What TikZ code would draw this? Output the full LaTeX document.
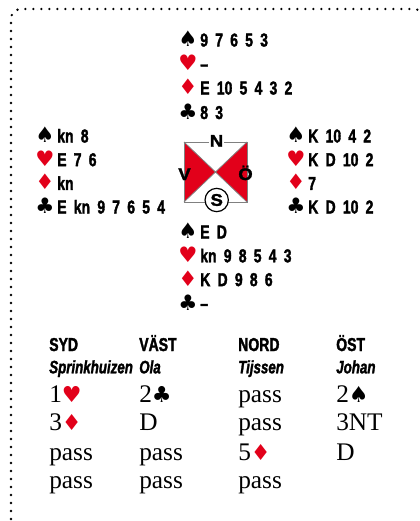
\documentclass[tikz,border=0pt]{standalone}
\usepackage{fontspec}
\setmainfont{Liberation Serif}
\newfontfamily\handfont[FakeStretch=0.75,FakeBold=1.8]{Liberation Sans Bold}
\newfontfamily\namefont[FakeStretch=0.74,FakeBold=1.6]{Liberation Sans Bold Italic}
\newfontfamily\symfont{DejaVu Sans}
\newfontfamily\dirfont[FakeStretch=1.1,FakeBold=1.8]{Liberation Sans Bold}
\newcommand\handsetup{\fontsize{14}{16}\handfont\spaceskip5.4pt\relax}
\definecolor{suitred}{RGB}{226,0,26}
\newcommand\hS{\makebox[16.5pt][l]{\fontsize{16}{16}\symfont ♠}}
\newcommand\hH{\makebox[16.5pt][l]{\fontsize{16}{16}\symfont\color{suitred}♥}}
\newcommand\hD{\makebox[16.5pt][l]{\fontsize{16}{16}\symfont\color{suitred}♦}}
\newcommand\hC{\makebox[16.5pt][l]{\fontsize{16}{16}\symfont ♣}}
\newcommand\bS{{\fontsize{16.5}{18}\symfont ♠}}
\newcommand\bH{{\fontsize{16.5}{18}\symfont\color{suitred}♥}}
\newcommand\bD{{\fontsize{16.5}{18}\symfont\color{suitred}♦}}
\newcommand\bC{{\fontsize{16.5}{18}\symfont ♣}}
\tikzset{
  hand/.style={anchor=base west,inner sep=0pt,font=\handsetup},
  head/.style={anchor=base west,inner sep=0pt,font=\fontsize{14}{16}\handfont},
  pname/.style={anchor=base west,inner sep=0pt,font=\fontsize{13.5}{15}\namefont},
  bid/.style={anchor=base west,inner sep=0pt,font=\fontsize{19}{22}\selectfont},
  dir/.style={inner sep=0.8pt,font=\fontsize{12.6}{14}\dirfont},
  border/.style={line width=2pt,line cap=round,dash pattern=on 0pt off 6pt},
}
\begin{document}
\begin{tikzpicture}[x=0.75pt,y=-0.75pt]
\useasboundingbox (0,0) rectangle (419,521);
\begin{scope}
\clip (0,0) rectangle (419,521);
\draw[border,rounded corners=7.5pt] (11,527) -- (11,9) -- (424,9) -- (424,527);
\end{scope}
% North
\node[hand] (n1) at (178,46.5) {\hS 9 7 6 5 3};
\node[hand] (n2) at (178,70.5) {\hH –};
\node[hand] (n3) at (178,94.5) {\hD E 10 5 4 3 2};
\node[hand] (n4) at (178,119) {\hC 8 3};
% West
\node[hand] (w1) at (35,142.5) {\hS kn 8};
\node[hand] (w2) at (35,166.2) {\hH E 7 6};
\node[hand] (w3) at (35,189.9) {\hD kn};
\node[hand] (w4) at (35,213.5) {\hC E kn 9 7 6 5 4};
% East
\node[hand] (e1) at (286,142.5) {\hS K 10 4 2};
\node[hand] (e2) at (286,166.2) {\hH K D 10 2};
\node[hand] (e3) at (286,189.9) {\hD 7};
\node[hand] (e4) at (286,213.5) {\hC K D 10 2};
% South
\node[hand] (s1) at (178,238.5) {\hS E D};
\node[hand] (s2) at (178,262.3) {\hH kn 9 8 5 4 3};
\node[hand] (s3) at (178,286.1) {\hD K D 9 8 6};
\node[hand] (s4) at (178,310) {\hC –};
% Compass
\coordinate (tl) at (184,142);
\coordinate (tr) at (247,142);
\coordinate (bl) at (184,202);
\coordinate (br) at (247,202);
\coordinate (cc) at (215.5,172);
\fill[suitred] (tl) -- (cc) -- (bl) -- cycle;
\fill[suitred] (tr) -- (cc) -- (br) -- cycle;
\draw[gray,line width=0.6pt] (tl) rectangle (br);
\draw[gray,line width=0.6pt] (tl) -- (br) (tr) -- (bl);
\node[dir,fill=white,anchor=base] (dN) at (216.5,146.7) {N};
\node[dir,anchor=base] (dV) at (184.5,180) {V};
\node[dir,anchor=base] (dO) at (245.5,180) {Ö};
\node[dir,draw,circle,fill=white,line width=0.9pt,minimum size=17.5pt,inner sep=0pt] (dS) at (216.7,200) {S};
% Bidding
\node[head] (hs) at (49,351) {SYD};
\node[head] (hv) at (139,351) {VÄST};
\node[head] (hn) at (238,351) {NORD};
\node[head] (ho) at (336,351) {ÖST};
\node[pname] (ps) at (49,373.3) {Sprinkhuizen};
\node[pname] (pv) at (139,373.3) {Ola};
\node[pname] (pn) at (238,373.3) {Tijssen};
\node[pname] (po) at (336,373.3) {Johan};
\node[bid] (b11) at (49,402) {1\bH};
\node[bid] (b12) at (139,402) {2\bC};
\node[bid] (b13) at (238,402) {pass};
\node[bid] (b14) at (336,402) {2\bS};
\node[bid] (b21) at (49,430.5) {3\bD};
\node[bid] (b22) at (139,430.5) {D};
\node[bid] (b23) at (238,430.5) {pass};
\node[bid] (b24) at (336,430.5) {3NT};
\node[bid] (b31) at (49,460) {pass};
\node[bid] (b32) at (139,460) {pass};
\node[bid] (b33) at (238,460) {5\bD};
\node[bid] (b34) at (336,460) {D};
\node[bid] (b41) at (49,488.5) {pass};
\node[bid] (b42) at (139,488.5) {pass};
\node[bid] (b43) at (238,488.5) {pass};
\end{tikzpicture}
\end{document}
